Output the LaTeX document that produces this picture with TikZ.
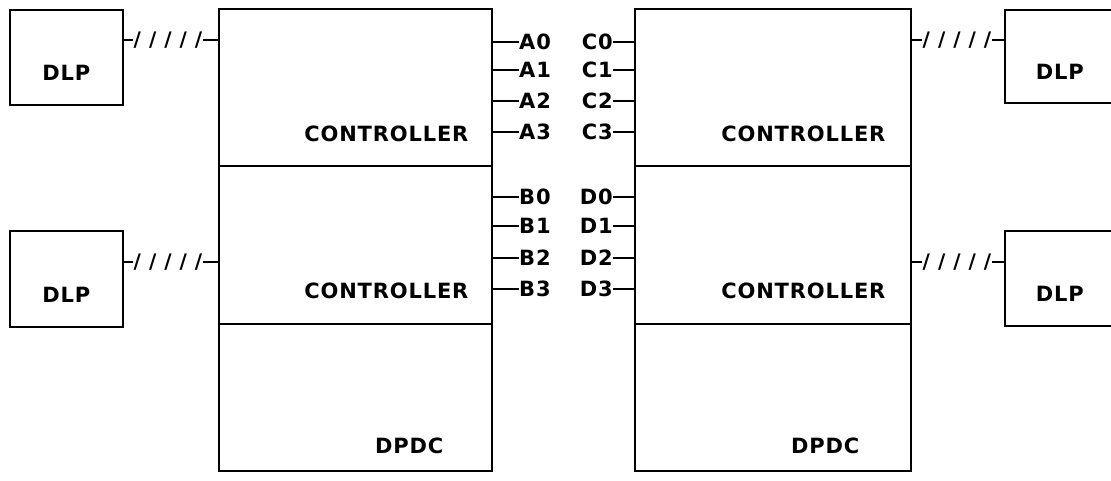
\documentclass[tikz,border=0pt]{standalone}
\usepackage{fontspec}
\setmainfont{DejaVu Sans}[LetterSpace=4]
\newfontfamily\slashfont{DejaVu Sans}[LetterSpace=40]
\usetikzlibrary{positioning}
\tikzset{
  box/.style={draw,line width=1.6pt,rectangle,inner sep=0pt,anchor=north west},
  lbl/.style={font=\fontsize{21}{24}\selectfont\bfseries,inner sep=0pt},
  bus/.style={font=\fontsize{20}{22}\slashfont\bfseries,inner sep=1pt},
  wire/.style={line width=1.5pt},
}
\begin{document}
\begin{tikzpicture}[x=1pt,y=-1pt]
\useasboundingbox (0,0) rectangle (1111,481);
% DLP boxes
\node[box,minimum width=113pt,minimum height=95pt] (dlpA) at (9,9) {};
\node[box,minimum width=113pt,minimum height=96pt] (dlpB) at (9,230) {};
\node[box,minimum width=116pt,minimum height=93pt] (dlpC) at (1004,9) {};
\node[box,minimum width=116pt,minimum height=95pt] (dlpD) at (1004,230) {};
\foreach \d in {dlpA,dlpB} \node[lbl,below=8pt of \d.center] {DLP};
\foreach \d in {dlpC,dlpD} \node[lbl,below=8pt of \d.center,xshift=-3pt] {DLP};
% left controller stack
\node[box,minimum width=273pt,minimum height=157pt] (ctlA) at (218,8) {};
\node[box,minimum width=273pt,minimum height=158pt] (ctlB) at (218,165) {};
\node[box,minimum width=273pt,minimum height=147pt] (dpdcL) at (218,323) {};
\node[lbl,anchor=south east,above left=25pt and 24pt of ctlA.south east] {CONTROLLER};
\node[lbl,anchor=south east,above left=26pt and 24pt of ctlB.south east] {CONTROLLER};
\node[lbl,anchor=south east,above left=18pt and 49pt of dpdcL.south east] {DPDC};
% right controller stack
\node[box,minimum width=276pt,minimum height=157pt] (ctlC) at (634,8) {};
\node[box,minimum width=276pt,minimum height=158pt] (ctlD) at (634,165) {};
\node[box,minimum width=276pt,minimum height=147pt] (dpdcR) at (634,323) {};
\node[lbl,anchor=south east,above left=25pt and 26pt of ctlC.south east] {CONTROLLER};
\node[lbl,anchor=south east,above left=26pt and 26pt of ctlD.south east] {CONTROLLER};
\node[lbl,anchor=south east,above left=18pt and 52pt of dpdcR.south east] {DPDC};
% pins
\foreach \i/\y in {0/42,1/70,2/101,3/132} {
  \node[lbl,anchor=west] (a\i) at (519,\y) {A\i};
  \draw[wire] (ctlA.east |- a\i.west) -- (a\i.west);
  \node[lbl,anchor=east] (c\i) at (613,\y) {C\i};
  \draw[wire] (c\i.east) -- (ctlC.west |- c\i.east);
}
\foreach \i/\y in {0/197,1/226,2/258,3/289} {
  \node[lbl,anchor=west] (b\i) at (519,\y) {B\i};
  \draw[wire] (ctlB.east |- b\i.west) -- (b\i.west);
  \node[lbl,anchor=east] (d\i) at (613,\y) {D\i};
  \draw[wire] (d\i.east) -- (ctlD.west |- d\i.east);
}
% links
\node[bus] (sA) at (168,40) {/////};
\draw[wire] (dlpA.east |- sA) -- (sA.west);
\draw[wire] (sA.east) -- (ctlA.west |- sA);
\node[bus] (sB) at (168,262) {/////};
\draw[wire] (dlpB.east |- sB) -- (sB.west);
\draw[wire] (sB.east) -- (ctlB.west |- sB);
\node[bus] (sC) at (957,40) {/////};
\draw[wire] (ctlC.east |- sC) -- (sC.west);
\draw[wire] (sC.east) -- (dlpC.west |- sC);
\node[bus] (sD) at (957,262) {/////};
\draw[wire] (ctlD.east |- sD) -- (sD.west);
\draw[wire] (sD.east) -- (dlpD.west |- sD);
\end{tikzpicture}
\end{document}
